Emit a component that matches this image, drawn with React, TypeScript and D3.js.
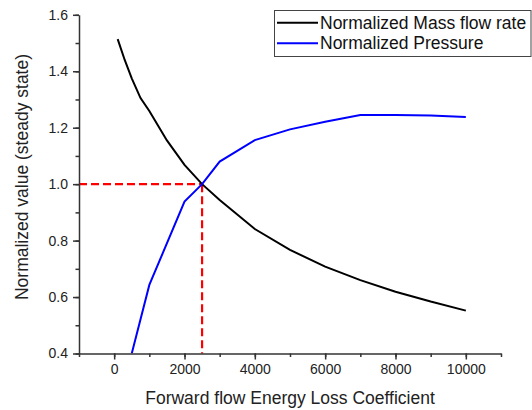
import React, { useRef, useEffect } from "react";
import * as d3 from "d3";

// Forward flow energy loss coefficient vs. normalized steady-state values
const massFlowK = [100, 300, 500, 750, 1000, 1500, 2000, 2500, 3000, 4000, 5000, 6000, 7000, 8000, 9000, 10000];
const massFlowValues = [1.514, 1.44, 1.375, 1.305, 1.259, 1.155, 1.068, 1.0, 0.944, 0.841, 0.767, 0.708, 0.66, 0.619, 0.584, 0.552];

const pressureK = [500, 1000, 2000, 2500, 3000, 4000, 5000, 6000, 7000, 8000, 9000, 10000];
const pressureValues = [0.4, 0.643, 0.938, 1.0, 1.08, 1.156, 1.194, 1.221, 1.245, 1.245, 1.243, 1.238];

const xTicks = [0, 2000, 4000, 6000, 8000, 10000];
const yTicks = [0.4, 0.6, 0.8, 1.0, 1.2, 1.4, 1.6];

const crossing = { k: 2500, value: 1.0 };

const seriesNames = ["Normalized Mass flow rate", "Normalized Pressure"];
const seriesColors = ["#000000", "#0000ff"];

const FONT = "'Liberation Sans', Arial, sans-serif";

const Chart = () => {
  const svgRef = useRef<SVGSVGElement>(null);

  useEffect(() => {
    const width = 532;
    const height = 410;
    const svg = d3.select(svgRef.current).attr("width", width).attr("height", height);
    svg.selectAll("*").remove();

    const x = d3.scaleLinear().domain([-1000, 11000]).range([79, 501]);
    const y = d3.scaleLinear().domain([0.4, 1.6]).range([353.5, 14.8]);

    // clip so curves stay in the plot area
    svg
      .append("defs")
      .append("clipPath")
      .attr("id", "plot-clip")
      .append("rect")
      .attr("x", x(-1000))
      .attr("y", y(1.6))
      .attr("width", x(11000) - x(-1000))
      .attr("height", y(0.4) - y(1.6));

    // red dashed guide lines at the crossing point
    const guides = svg.append("g").attr("stroke", "#ff0000").attr("stroke-width", 2.2).attr("stroke-dasharray", "8,4").attr("fill", "none");
    guides
      .append("line")
      .attr("x1", x(-1000))
      .attr("x2", x(crossing.k))
      .attr("y1", y(crossing.value))
      .attr("y2", y(crossing.value));
    guides
      .append("line")
      .attr("x1", x(crossing.k))
      .attr("x2", x(crossing.k))
      .attr("y1", y(crossing.value))
      .attr("y2", y(0.4));

    const line = d3
      .line<[number, number]>()
      .x((d) => x(d[0]))
      .y((d) => y(d[1]));

    const plot = svg.append("g").attr("clip-path", "url(#plot-clip)");
    plot
      .append("path")
      .datum(massFlowK.map((k, i) => [k, massFlowValues[i]] as [number, number]))
      .attr("d", line)
      .attr("fill", "none")
      .attr("stroke", seriesColors[0])
      .attr("stroke-width", 2);
    plot
      .append("path")
      .datum(pressureK.map((k, i) => [k, pressureValues[i]] as [number, number]))
      .attr("d", line)
      .attr("fill", "none")
      .attr("stroke", seriesColors[1])
      .attr("stroke-width", 2);

    // axes
    const axisColor = "#333333";
    const xAxis = svg.append("g").attr("transform", `translate(0,${y(0.4)})`);
    xAxis
      .call(d3.axisBottom(x).tickValues(d3.range(-1000, 11001, 1000)).tickSize(3.5).tickFormat(() => ""))
      .call((g) => g.select(".domain").remove());
    xAxis
      .append("g")
      .call(d3.axisBottom(x).tickValues(xTicks).tickSize(6).tickSizeOuter(0).tickPadding(5).tickFormat(d3.format("d")))
      .call((g) => g.select(".domain").attr("stroke-width", 1.5));
    xAxis.selectAll("line").attr("stroke", axisColor).attr("stroke-width", 1.5);
    xAxis.select(".domain").attr("stroke", axisColor);
    xAxis.selectAll("text").attr("font-family", FONT).attr("font-size", 14).attr("fill", "#222");

    const yAxis = svg.append("g").attr("transform", `translate(${x(-1000)},0)`);
    yAxis
      .call(d3.axisLeft(y).tickValues(d3.range(4, 17).map((v) => v / 10)).tickSize(3.5).tickFormat(() => ""))
      .call((g) => g.select(".domain").remove());
    yAxis
      .append("g")
      .call(d3.axisLeft(y).tickValues(yTicks).tickSize(6).tickSizeOuter(0).tickPadding(5).tickFormat(d3.format(".1f")))
      .call((g) => g.select(".domain").attr("stroke-width", 1.5));
    yAxis.selectAll("line").attr("stroke", axisColor).attr("stroke-width", 1.5);
    yAxis.select(".domain").attr("stroke", axisColor);
    yAxis.selectAll("text").attr("font-family", FONT).attr("font-size", 14).attr("fill", "#222");

    // axis titles
    svg
      .append("text")
      .attr("x", (x(-1000) + x(11000)) / 2)
      .attr("y", 404)
      .attr("text-anchor", "middle")
      .attr("font-family", FONT)
      .attr("font-size", 17.5)
      .attr("fill", "#222")
      .text("Forward flow Energy Loss Coefficient");
    svg
      .append("text")
      .attr("transform", `translate(28,177) rotate(-90)`)
      .attr("text-anchor", "middle")
      .attr("font-family", FONT)
      .attr("font-size", 17.5)
      .attr("fill", "#222")
      .text("Normalized value (steady state)");

    // legend
    const legend = svg.append("g");
    legend
      .append("rect")
      .attr("x", 274.5)
      .attr("y", 10.5)
      .attr("width", 256.5)
      .attr("height", 46)
      .attr("fill", "#fff")
      .attr("stroke", "#444")
      .attr("stroke-width", 1);
    seriesNames.forEach((name, i) => {
      const ly = 22.7 + i * 20.6;
      legend
        .append("line")
        .attr("x1", 277)
        .attr("x2", 318)
        .attr("y1", ly)
        .attr("y2", ly)
        .attr("stroke", seriesColors[i])
        .attr("stroke-width", 2);
      legend
        .append("text")
        .attr("x", 320)
        .attr("y", ly + 6)
        .attr("font-family", FONT)
        .attr("font-size", 17.5)
        .attr("fill", "#111")
        .text(name);
    });
  }, []);

  return <svg ref={svgRef}></svg>;
};

export default function App() {
  return (
    <div style={{ position: "absolute", left: 0, top: 0 }}>
      <Chart />
    </div>
  );
}
